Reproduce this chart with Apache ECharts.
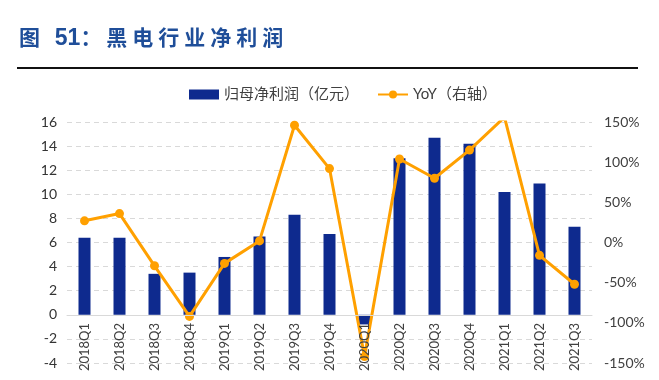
<!DOCTYPE html>
<html>
<head>
<meta charset="utf-8">
<script src="https://cdn.jsdelivr.net/npm/echarts@6/dist/echarts.min.js"></script>
<style>
html,body{margin:0;padding:0;background:#fff;}
#wrap{position:relative;width:659px;height:380px;}
#c{width:659px;height:380px;}
#t{position:absolute;left:19px;top:21px;font-family:"Noto Sans CJK SC",sans-serif;font-weight:700;font-size:21px;letter-spacing:5px;color:#1F4E99;white-space:pre;line-height:30px;}
#t .n{font-family:"Liberation Sans",Arial,sans-serif;font-size:23px;letter-spacing:0;}
</style>
</head>
<body>
<div id="wrap"><div id="c"></div><div id="t"></div></div>
<script>
var categories = ['2018Q1','2018Q2','2018Q3','2018Q4','2019Q1','2019Q2','2019Q3','2019Q4','2020Q1','2020Q2','2020Q3','2020Q4','2021Q1','2021Q2','2021Q3'];
var profit = [6.4, 6.4, 3.4, 3.5, 4.8, 6.5, 8.3, 6.7, -0.8, 13.0, 14.7, 14.2, 10.2, 10.9, 7.3];
var yoy = [27, 36, -29, -92, -26, 2, 146, 92, -142, 104, 80, 115, 156, -16, -52];
var leftTicks = {min: -4, max: 16, interval: 2};
var rightTicks = {min: -150, max: 150, interval: 50};
var titlePrefix = '图 ';
var titleNumber = '51';
var titleRest = '：黑电行业净利润';
var seriesNames = ['归母净利润（亿元）', 'YoY（右轴）'];

var t = document.getElementById('t');
t.appendChild(document.createTextNode(titlePrefix));
var sp = document.createElement('span'); sp.className = 'n'; sp.textContent = titleNumber; t.appendChild(sp);
t.appendChild(document.createTextNode(titleRest));

var numFont = 'Lato, "Noto Sans CJK SC", sans-serif';
var chart = echarts.init(document.getElementById('c'));
chart.setOption({
  animation: false,
  backgroundColor: '#fff',
  graphic: [{
    type: 'line', shape: {x1: 17, y1: 68, x2: 638, y2: 68},
    style: {stroke: '#111', lineWidth: 2}
  }],
  legend: {
    top: 82, left: 184,
    itemWidth: 30, itemHeight: 10, itemGap: 18,
    textStyle: {color: '#404040', fontSize: 15, fontFamily: numFont},
    data: [
      {name: seriesNames[0], icon: 'rect'},
      {name: seriesNames[1]}
    ]
  },
  grid: {left: 67, right: 67, top: 122, bottom: 17, containLabel: false, outerBoundsMode: 'none'},
  xAxis: {
    type: 'category',
    data: categories,
    z: 10,
    axisTick: {show: false},
    axisLine: {onZero: true, onZeroAxisIndex: 0, lineStyle: {color: '#d9d9d9', width: 1}},
    axisLabel: {rotate: 90, margin: -40, fontSize: 13, color: '#404040', fontFamily: numFont, interval: 0}
  },
  yAxis: [{
    type: 'value',
    min: leftTicks.min, max: leftTicks.max, interval: leftTicks.interval,
    axisLine: {show: false}, axisTick: {show: false},
    axisLabel: {fontSize: 14, color: '#333', margin: 10, fontFamily: numFont},
    splitLine: {lineStyle: {color: '#d9d9d9', type: [5, 4], width: 1}}
  }, {
    type: 'value',
    min: rightTicks.min, max: rightTicks.max, interval: rightTicks.interval,
    axisLine: {show: false}, axisTick: {show: false},
    axisLabel: {fontSize: 14, color: '#404040', margin: 12, formatter: '{value}%', fontFamily: numFont},
    splitLine: {show: false}
  }],
  series: [{
    name: seriesNames[0],
    type: 'bar',
    data: profit,
    barWidth: 12,
    itemStyle: {color: '#0E2A8E'}
  }, {
    name: seriesNames[1],
    type: 'line',
    yAxisIndex: 1,
    data: yoy,
    z: 5,
    symbol: 'circle',
    symbolSize: 9,
    clip: true,
    lineStyle: {color: '#FFA000', width: 3},
    itemStyle: {color: '#FFA000'}
  }]
});
</script>
</body>
</html>
